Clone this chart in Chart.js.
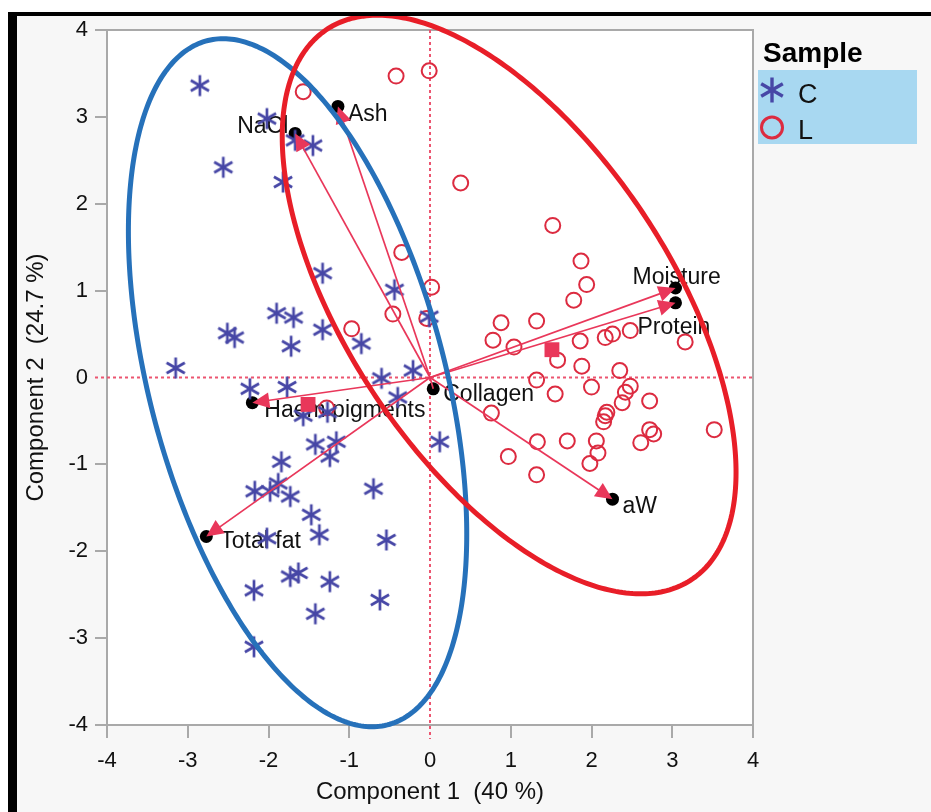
<!DOCTYPE html>
<html>
<head>
<meta charset="utf-8">
<title>PCA biplot</title>
<script src="https://cdn.jsdelivr.net/npm/chart.js@4.4.1/dist/chart.umd.min.js"></script>
<style>
  html, body { margin: 0; padding: 0; background: #fff; }
</style>
</head>
<body>
<canvas id="pca" width="931" height="812"></canvas>
<script>
// ---- scores, sample C ----
const cX = [-2.85,-2.02,-1.67,-1.45,-2.56,-1.82,-1.33,-0.44,-1.90,-1.69,-1.33,-2.51,-2.42,-1.72,-0.85,-0.01,-3.15,-0.21,-0.60,-2.23,
            -1.77,-0.40,-1.57,-1.27,-1.42,-1.16,-1.24,-1.84,-2.17,-1.98,-1.88,-1.73,-0.70,-1.47,-1.37,-0.54,-2.02,-1.73,-1.63,-1.24,
            -2.18,-0.62,-1.42,-2.18,0.12];
const cY = [3.36,2.98,2.73,2.67,2.42,2.25,1.20,1.01,0.74,0.69,0.55,0.51,0.46,0.36,0.39,0.70,0.11,0.08,-0.01,-0.13,
            -0.11,-0.23,-0.44,-0.40,-0.77,-0.74,-0.91,-0.97,-1.31,-1.31,-1.22,-1.37,-1.28,-1.58,-1.81,-1.87,-1.85,-2.29,-2.25,-2.35,
            -2.45,-2.56,-2.72,-3.10,-0.74];

// ---- scores, sample L ----
const lX = [-0.42,-0.01,-1.57,0.38,-0.35,0.02,-0.46,-0.04,-0.97,1.52,1.87,1.94,1.78,0.88,1.32,0.78,1.04,1.86,2.17,2.26,
            2.48,3.16,1.58,1.88,2.35,1.32,2.00,2.48,2.42,1.55,0.76,2.38,2.72,2.19,2.15,2.17,1.33,1.70,2.06,0.97,
            1.32,2.08,1.98,2.61,2.72,2.77,3.52,-1.28];
const lY = [3.47,3.53,3.29,2.24,1.44,1.04,0.73,0.68,0.56,1.75,1.34,1.07,0.89,0.63,0.65,0.43,0.35,0.42,0.46,0.50,
            0.54,0.41,0.20,0.13,0.08,-0.03,-0.11,-0.10,-0.17,-0.19,-0.41,-0.29,-0.27,-0.40,-0.51,-0.44,-0.74,-0.73,-0.73,-0.91,
            -1.12,-0.87,-0.99,-0.75,-0.60,-0.65,-0.60,-0.35];

// ---- loadings ----
const loadNames = ['NaCl','Ash','Moisture','Protein','Collagen','aW','Haem pigments','Total fat'];
const loadX = [-1.67,-1.14,3.04,3.04,0.04,2.26,-2.20,-2.77];
const loadY = [2.81,3.12,1.03,0.86,-0.13,-1.40,-0.29,-1.83];

// ---- group means ----
const meanX = [-1.51, 1.51];
const meanY = [-0.31, 0.32];

// ---- group ellipses: centre, half-extent on each axis, cos of the phase between them ----
const groups = ['C', 'L'];
const ellCx = [-1.64, 0.98];
const ellCy = [-0.06, 0.84];
const ellRx = [2.095, 2.81];
const ellRy = [3.96, 3.33];
const ellCos = [-0.44, -0.58];

// ---- axes ----
const axisMin = -4, axisMax = 4, axisStep = 1;
const xTitle = 'Component 1  (40 %)';
const yTitle = 'Component 2  (24.7 %)';
const legendTitle = 'Sample';

// styling
const plotFont = '"Liberation Sans", Arial, Helvetica, sans-serif';
const starColor = '#4747a6';
const circColor = '#dc2b40';
const vecColor = '#e9375a';
const ellColors = ['#2671ba', '#e81e28'];
const frameColor = '#a9a9a9';
// label placement next to each loading point (px)
const labelStyle = [
  { dx: -58, dy: 0, align: 'left' },
  { dx: 10, dy: 15, align: 'left' },
  { dx: -43, dy: -4, align: 'left' },
  { dx: -38, dy: 31, align: 'left' },
  { dx: 10, dy: 12, align: 'left' },
  { dx: 10, dy: 14, align: 'left' },
  { dx: 12, dy: 14, align: 'left' },
  { dx: 14, dy: 12, align: 'left' }
];

Chart.defaults.font.family = plotFont;

// six-armed asterisk used as the point style for C
function makeStar(size, color, lw, r) {
  const c = document.createElement('canvas');
  c.width = size; c.height = size;
  const g = c.getContext('2d');
  g.strokeStyle = color; g.lineWidth = lw;
  const m = size / 2;
  [90, 30, 150].forEach(a => {
    const dx = Math.cos(a * Math.PI / 180) * r, dy = Math.sin(a * Math.PI / 180) * r;
    g.beginPath(); g.moveTo(m - dx, m - dy); g.lineTo(m + dx, m + dy); g.stroke();
  });
  return c;
}
const starImg = makeStar(24, starColor, 2.7, 10.5);
const legendStar = makeStar(30, starColor, 3.4, 12.5);

const pts = (xs, ys) => xs.map((v, i) => ({ x: v, y: ys[i] }));

const biplot = {
  id: 'biplot',
  beforeDraw(chart) {
    const { ctx, width, height, chartArea: a } = chart;
    ctx.save();
    ctx.fillStyle = '#ffffff'; ctx.fillRect(0, 0, width, height);
    ctx.fillStyle = '#f7f7f7'; ctx.fillRect(8, 12, width - 8, height - 12);
    ctx.fillStyle = '#ffffff'; ctx.fillRect(a.left, a.top, a.right - a.left, a.bottom - a.top);
    ctx.restore();
  },
  beforeDatasetsDraw(chart) {
    const { ctx, chartArea: a, scales: { x, y } } = chart;
    const x0 = x.getPixelForValue(0), y0 = y.getPixelForValue(0);
    ctx.save();
    ctx.strokeStyle = frameColor; ctx.lineWidth = 2;
    ctx.beginPath();
    ctx.moveTo(a.left, a.top); ctx.lineTo(a.right, a.top); ctx.lineTo(a.right, a.bottom);
    ctx.stroke();
    // dotted zero lines, running through the tick area
    ctx.strokeStyle = '#ec5570'; ctx.lineWidth = 2; ctx.setLineDash([3, 3]);
    ctx.beginPath();
    ctx.moveTo(a.left - 12, y0); ctx.lineTo(a.right, y0);
    ctx.moveTo(x0, a.top); ctx.lineTo(x0, a.bottom + 14);
    ctx.stroke();
    ctx.setLineDash([]);
    // loading names sit beneath the points
    ctx.font = '23px ' + plotFont; ctx.fillStyle = '#111'; ctx.textBaseline = 'alphabetic';
    loadNames.forEach((n, i) => {
      const s = labelStyle[i];
      ctx.textAlign = s.align;
      ctx.fillText(n, x.getPixelForValue(loadX[i]) + s.dx, y.getPixelForValue(loadY[i]) + s.dy);
    });
    ctx.restore();
  },
  afterDatasetsDraw(chart) {
    const { ctx, scales: { x, y } } = chart;
    const ox = x.getPixelForValue(0), oy = y.getPixelForValue(0);
    ctx.save();
    // loading vectors
    ctx.strokeStyle = vecColor; ctx.fillStyle = vecColor; ctx.lineWidth = 1.7;
    loadNames.forEach((n, i) => {
      const ex = x.getPixelForValue(loadX[i]), ey = y.getPixelForValue(loadY[i]);
      const len = Math.hypot(ex - ox, ey - oy);
      const c = (ex - ox) / len, s = (ey - oy) / len;
      const head = len > 25 ? 17 : 0;
      ctx.beginPath(); ctx.moveTo(ox, oy); ctx.lineTo(ex - c * head * 0.7, ey - s * head * 0.7); ctx.stroke();
      if (head) {
        const bx = ex - c * head, by = ey - s * head;
        ctx.beginPath();
        ctx.moveTo(ex, ey);
        ctx.lineTo(bx - s * 8, by + c * 8);
        ctx.lineTo(bx + s * 8, by - c * 8);
        ctx.closePath(); ctx.fill();
      }
    });
    // group ellipses
    ctx.lineWidth = 5;
    groups.forEach((g, k) => {
      const phi = Math.acos(ellCos[k]);
      ctx.strokeStyle = ellColors[k];
      ctx.beginPath();
      for (let j = 0; j <= 360; j++) {
        const t = j * Math.PI / 180;
        const px = x.getPixelForValue(ellCx[k] + ellRx[k] * Math.cos(t));
        const py = y.getPixelForValue(ellCy[k] + ellRy[k] * Math.cos(t - phi));
        if (j === 0) ctx.moveTo(px, py); else ctx.lineTo(px, py);
      }
      ctx.closePath(); ctx.stroke();
    });
    ctx.restore();
  },
  afterDraw(chart) {
    const { ctx, width, height } = chart;
    ctx.save();
    // legend
    ctx.fillStyle = '#000'; ctx.textAlign = 'left'; ctx.textBaseline = 'alphabetic';
    ctx.font = 'bold 28px ' + plotFont;
    ctx.fillText(legendTitle, 763, 62);
    ctx.fillStyle = '#a8d8f1'; ctx.fillRect(758, 70, 159, 74);
    ctx.drawImage(legendStar, 772 - 15, 90 - 15);
    ctx.strokeStyle = circColor; ctx.lineWidth = 3;
    ctx.beginPath(); ctx.arc(772, 127.5, 10.5, 0, Math.PI * 2); ctx.stroke();
    ctx.fillStyle = '#111'; ctx.font = '27px ' + plotFont;
    ctx.fillText(groups[0], 798, 103);
    ctx.fillText(groups[1], 798, 139);
    // heavy outer border
    ctx.fillStyle = '#000';
    ctx.fillRect(8, 12, width - 8, 4);
    ctx.fillRect(8, 12, 9, height - 12);
    ctx.restore();
  }
};

const tickGrid = {
  drawOnChartArea: false,
  lineWidth: 2,
  color: frameColor,
  tickColor: ctx => (ctx.tick && ctx.tick.value === 0) ? 'rgba(0,0,0,0)' : frameColor
};

new Chart(document.getElementById('pca'), {
  type: 'scatter',
  data: {
    datasets: [
      { label: 'means', data: pts(meanX, meanY), pointStyle: 'rect', pointRadius: 10.5,
        backgroundColor: vecColor, borderWidth: 0, order: 1 },
      { label: groups[0], data: pts(cX, cY), pointStyle: starImg, order: 2 },
      { label: groups[1], data: pts(lX, lY), pointStyle: 'circle', pointRadius: 7.5,
        borderColor: circColor, borderWidth: 2, backgroundColor: 'rgba(0,0,0,0)', order: 3 },
      { label: 'loadings', data: pts(loadX, loadY), pointStyle: 'circle', pointRadius: 6.5,
        backgroundColor: '#000', borderWidth: 0, order: 4 }
    ]
  },
  options: {
    responsive: false,
    animation: false,
    devicePixelRatio: 1,
    layout: { padding: { top: 30, right: 178, left: 0, bottom: 0 } },
    plugins: { legend: { display: false }, tooltip: { enabled: false } },
    scales: {
      x: {
        type: 'linear', position: 'bottom', min: axisMin, max: axisMax,
        afterFit: s => { s.height = 87; },
        ticks: { stepSize: axisStep, color: '#111', font: { size: 22 }, padding: 10 },
        grid: Object.assign({ tickLength: 13 }, tickGrid),
        border: { color: frameColor, width: 2 },
        title: { display: true, text: xTitle, color: '#111', font: { size: 24 }, padding: { top: 0, bottom: 5 } }
      },
      y: {
        type: 'linear', position: 'left', min: axisMin, max: axisMax,
        afterFit: s => { s.width = 107; },
        ticks: { stepSize: axisStep, color: '#111', font: { size: 22 }, padding: 7 },
        grid: Object.assign({ tickLength: 12 }, tickGrid),
        border: { color: frameColor, width: 2 },
        title: { display: true, text: yTitle, color: '#111', font: { size: 24 }, padding: { top: 22, bottom: 0 } }
      }
    }
  },
  plugins: [biplot]
});
</script>
</body>
</html>
